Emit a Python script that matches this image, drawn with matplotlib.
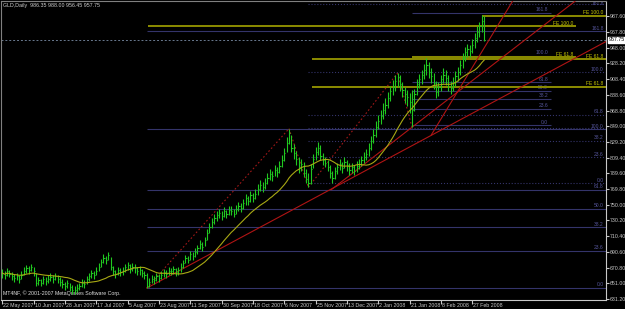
import pandas as pd
import matplotlib
matplotlib.use('Agg')
import matplotlib.pyplot as plt
from matplotlib.collections import LineCollection
import matplotlib.transforms as mtransforms

plt.rcParams['font.family'] = ['Liberation Sans', 'DejaVu Sans']

# GLD daily bars (one value per bar, oldest first)
highs = [669, 667, 670, 668, 665, 663, 664, 662, 666, 671,
         674, 673, 675, 672, 664, 659, 657, 660, 659, 661,
         664, 661, 664, 662, 659, 656, 653, 655, 652, 649,
         647, 650, 652, 656, 655, 660, 664, 668, 666, 671,
         676, 682, 688, 686, 691, 684, 673, 668, 672, 670,
         671, 675, 678, 675, 676, 675, 672, 673, 669, 667,
         664, 658, 661, 660, 664, 663, 666, 669, 668, 671,
         670, 673, 670, 672, 676, 681, 687, 686, 692, 691,
         695, 699, 705, 703, 709, 719, 727, 733, 738, 742,
         745, 742, 747, 744, 749, 748, 745, 750, 754, 752,
         757, 763, 761, 767, 765, 770, 776, 781, 779, 784,
         790, 795, 793, 800, 798, 805, 813, 822, 835, 846,
         838, 826, 818, 810, 808, 804, 795, 790, 801, 814,
         823, 829, 825, 815, 810, 806, 800, 793, 798, 803,
         808, 804, 810, 807, 803, 803, 800, 805, 808, 812,
         816, 820, 828, 837, 845, 855, 863, 870, 878, 884,
         892, 900, 907, 913, 916, 913, 905, 899, 895, 891,
         895, 896, 909, 915, 920, 928, 935, 930, 922, 916,
         906, 905, 914, 922, 920, 913, 906, 911, 919, 924,
         932, 941, 949, 953, 952, 959, 966, 975, 981, 989,
         988.00]
lows = [658, 656, 660, 659, 655, 653, 655, 652, 656, 661,
        664, 663, 666, 660, 648, 649, 647, 650, 649, 651,
        654, 651, 655, 652, 648, 645, 642, 645, 641, 638,
        637, 640, 642, 646, 645, 650, 654, 658, 656, 661,
        666, 671, 677, 675, 680, 668, 661, 658, 662, 660,
        662, 665, 668, 664, 667, 664, 661, 662, 659, 656,
        645, 646, 651, 650, 654, 653, 656, 659, 658, 661,
        661, 663, 660, 662, 665, 670, 676, 676, 681, 681,
        684, 688, 694, 692, 698, 705, 714, 721, 726, 730,
        733, 731, 735, 733, 737, 737, 734, 738, 742, 741,
        745, 750, 750, 754, 753, 757, 762, 767, 766, 770,
        776, 781, 780, 786, 785, 790, 797, 805, 817, 826,
        816, 808, 800, 790, 792, 785, 777, 772, 776, 796,
        807, 813, 806, 800, 797, 792, 784, 777, 783, 789,
        794, 790, 796, 793, 788, 790, 787, 791, 795, 799,
        803, 806, 812, 819, 828, 836, 845, 852, 858, 865,
        872, 881, 888, 894, 898, 893, 886, 878, 875, 866,
        848, 868, 889, 897, 902, 908, 914, 910, 903, 896,
        885, 887, 894, 903, 901, 893, 890, 894, 900, 906,
        914, 923, 931, 936, 936, 941, 948, 955, 962, 968,
        956.45]
closes = [664, 661, 666, 663, 660, 658, 660, 657, 662, 667,
          670, 668, 671, 666, 652, 655, 652, 656, 654, 657,
          659, 656, 660, 657, 653, 650, 647, 651, 646, 643,
          642, 645, 648, 652, 650, 656, 660, 664, 661, 667,
          672, 678, 683, 680, 687, 672, 666, 663, 668, 665,
          667, 671, 674, 669, 672, 670, 666, 668, 664, 662,
          648, 653, 657, 655, 660, 658, 662, 665, 663, 667,
          666, 669, 665, 668, 671, 677, 683, 681, 688, 686,
          690, 695, 700, 697, 705, 715, 722, 728, 733, 737,
          740, 736, 742, 738, 744, 742, 739, 745, 749, 746,
          752, 758, 755, 762, 759, 764, 770, 775, 772, 778,
          784, 789, 786, 794, 791, 799, 806, 815, 828, 840,
          822, 815, 808, 797, 801, 790, 783, 778, 795, 808,
          816, 822, 812, 806, 803, 798, 790, 784, 793, 797,
          801, 796, 804, 800, 794, 797, 793, 799, 802, 806,
          810, 814, 821, 830, 838, 848, 856, 862, 870, 876,
          885, 893, 899, 906, 911, 902, 895, 890, 886, 879,
          870, 890, 902, 908, 913, 920, 926, 918, 912, 904,
          892, 898, 908, 914, 910, 902, 897, 905, 912, 918,
          926, 935, 942, 946, 944, 952, 960, 968, 975, 982,
          957.75]

date_labels = ['22 May 2007', '10 Jun 2007', '28 Jun 2007', '17 Jul 2007',
               '5 Aug 2007', '23 Aug 2007', '11 Sep 2007', '30 Sep 2007',
               '18 Oct 2007', '6 Nov 2007', '25 Nov 2007', '13 Dec 2007',
               '2 Jan 2008', '21 Jan 2008', '8 Feb 2008', '27 Feb 2008']
date_ticks = [0, 13, 26, 39, 52, 65, 78, 91, 104, 117, 130, 143, 156, 169, 182, 195]

price_ticks = [631.20, 651.00, 670.80, 690.60, 710.40, 730.20, 750.00, 769.80,
               789.60, 809.40, 829.20, 849.00, 868.80, 888.60, 908.40, 928.20,
               948.00, 967.80, 987.60]

# fibonacci retracements: (start bar, end bar, price at 0%, price at 100%, style, levels without label)
fib_ratios = [0.0, 23.6, 38.2, 50.0, 61.8, 100.0, 161.8]
fib_sets = [(60, 250.5, 645, 845, '-', []),
            (127, 250.5, 777, 917, ':', [50.0]),
            (170, 227.5, 850, 938, '-', [])]

# fibonacci expansion levels: (price, start bar, end bar, label)
fe_lines = [(988.5, 199, 250.5, 'FE 100.0'),
            (975.0, 60.6, 238, 'FE 100.0'),
            (936.0, 170, 238, 'FE 61.8'),
            (933.5, 128.6, 250.5, 'FE 61.8'),
            (899.0, 128.6, 250.5, 'FE 61.8')]

# trend lines: two anchor points (bar, price); drawn as rays to the right
trend_rays = [((60, 645), (174, 831)),
              ((136.5, 769), (169.7, 847)),
              ((178, 838), (212, 1008))]
# dotted expansion legs
fe_legs = [((60, 645), (119, 846)),
           ((119, 846), (127, 772)),
           ((127, 772), (164, 916)),
           ((164, 916), (170, 848))]

fig = plt.figure(figsize=(6.25, 3.09), dpi=100, facecolor='black')
ax = fig.add_axes([0.0016, 0.029, 0.968, 0.968], facecolor='black')
xmax = 250.5
ymax = 1007.0
ax.set_xlim(-0.5, xmax)
ax.set_ylim(629.9, ymax)

# fibo retracement levels
for x0, x1, p0, p100, ls, no_label in fib_sets:
    for r in fib_ratios:
        p = p0 + (p100 - p0) * r / 100
        ax.hlines(p, x0, x1, color='#34346a', lw=0.8, linestyle=ls, zorder=1)
        if r in no_label:
            continue
        ty = min(p + 0.8, ymax - 6)
        ax.text(x1 - 1, ty, '%.1f' % r, color='#55559a', fontsize=3.6,
                ha='right', va='bottom', zorder=2)

# fibo expansion levels
for p, x0, x1, lab in fe_lines:
    ax.hlines(p, x0, x1, color='#8c8c00', lw=1.4, zorder=2)
    ax.text(x1 - 1, p + 0.8, lab, color='#c8c800', fontsize=3.6,
            ha='right', va='bottom', zorder=3)

# bid line
ax.axhline(closes[-1], color='#6a7a90', lw=0.7, linestyle=(0, (2, 2)), zorder=2)

# trend lines
for (xa, ya), (xb, yb) in trend_rays:
    slope = (yb - ya) / (xb - xa)
    ax.plot([xa, xmax], [ya, ya + slope * (xmax - xa)], color='#b01414', lw=0.8, zorder=3)
for (xa, ya), (xb, yb) in fe_legs:
    ax.plot([xa, xb], [ya, yb], color='#a01818', lw=0.8, linestyle=(0, (1.5, 2)), zorder=3)

# price bars
idx = list(range(len(closes)))
ax.vlines(idx, lows, highs, color='#20c820', lw=0.8, zorder=4)
ticks = [[(i, c), (i + 0.5, c)] for i, c in zip(idx, closes)]
ax.add_collection(LineCollection(ticks, colors='#20c820', linewidths=0.8, zorder=4))

# moving average
ma = pd.Series(closes).rolling(20, min_periods=1).mean()
ax.plot(idx, ma, color='#a8a814', lw=0.8, zorder=5)

# axes styling
for side in ['left', 'top']:
    ax.spines[side].set_color('#808080')
for side in ['right', 'bottom']:
    ax.spines[side].set_color('#c8c8c8')
ax.yaxis.tick_right()
ax.set_yticks(price_ticks)
ax.set_yticklabels(['%.2f' % v for v in price_ticks])
ax.tick_params(axis='y', colors='#c8c8c8', labelsize=3.8, length=2, pad=1)
ax.set_xticks(date_ticks)
ax.set_xticklabels(date_labels, ha='left')
ax.tick_params(axis='x', colors='#c8c8c8', labelsize=3.8, length=3, pad=0.5)
for lab in ax.get_xticklabels():
    lab.set_transform(lab.get_transform() + mtransforms.ScaledTranslation(1 / 100, 2 / 100, fig.dpi_scale_trans))

# current price box
trans = mtransforms.blended_transform_factory(ax.transAxes, ax.transData)
ax.text(1.004, closes[-1], '%.2f' % closes[-1], transform=trans, fontsize=3.8,
        color='black', ha='left', va='center',
        bbox=dict(facecolor='white', edgecolor='white', pad=0.6))

ax.text(0.004, 0.993, 'GLD,Daily  986.35 988.00 956.45 957.75', transform=ax.transAxes,
        color='#d0d0d0', fontsize=3.8, ha='left', va='top')
ax.text(0.004, 0.012, 'MT4NF, \u00a9 2001-2007 MetaQuotes Software Corp.', transform=ax.transAxes,
        color='#e0e0e0', fontsize=3.8, ha='left', va='bottom')

fig.savefig('out.png', dpi=100, facecolor='black')
